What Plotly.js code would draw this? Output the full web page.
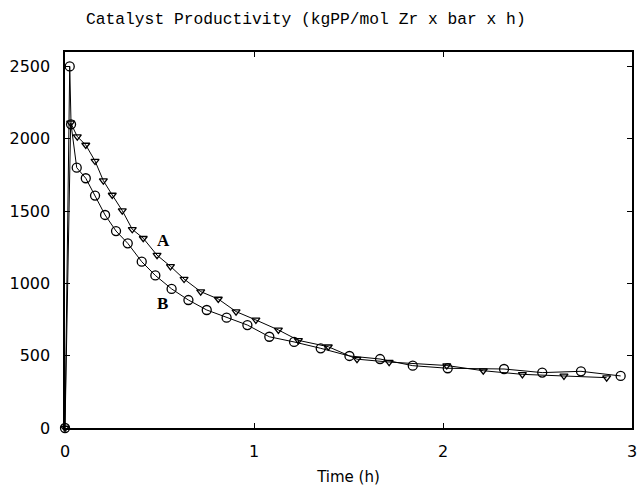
<!DOCTYPE html>
<html>
<head>
<meta charset="utf-8">
<script src="https://cdn.plot.ly/plotly-3.0.1.min.js"></script>
<style>html,body{margin:0;padding:0;background:#fff;}#chart{width:639px;height:486px;}</style>
</head>
<body>
<div id="chart"></div>
<script>
// Series A (triangles)
const timeA = [0, 0.03, 0.065, 0.11, 0.159, 0.203, 0.25, 0.303, 0.356, 0.414, 0.487, 0.558, 0.63, 0.718, 0.811, 0.905, 1.01, 1.129, 1.235, 1.393, 1.545, 1.715, 2.02, 2.213, 2.42, 2.64, 2.866];
const prodA = [0, 2110, 2015, 1957, 1846, 1710, 1611, 1503, 1374, 1312, 1195, 1118, 1030, 943, 892, 805, 747, 678, 606, 562, 476, 456, 432, 396, 371, 360, 348];
// Series B (circles)
const timeB = [0, 0.025, 0.032, 0.062, 0.11, 0.159, 0.212, 0.27, 0.332, 0.406, 0.478, 0.564, 0.653, 0.75, 0.855, 0.965, 1.081, 1.212, 1.353, 1.505, 1.667, 1.84, 2.025, 2.323, 2.525, 2.73, 2.94];
const prodB = [0, 2500, 2100, 1800, 1727, 1607, 1473, 1362, 1277, 1150, 1055, 962, 885, 816, 763, 712, 631, 595, 551, 498, 477, 431, 413, 408, 383, 392, 360];
const seriesLabels = ["A", "B"];
const labelTime = [0.52, 0.515];
const labelProd = [1300, 864];
const xTicks = [0, 1, 2, 3];
const yTicks = [0, 500, 1000, 1500, 2000, 2500];

const traces = [
  {x: timeA, y: prodA, mode: 'lines+markers', cliponaxis: false,
   line: {color: '#000', width: 1},
   marker: {symbol: 'triangle-down-open', size: 7, color: '#000', line: {width: 1.3}}},
  {x: timeB, y: prodB, mode: 'lines+markers', cliponaxis: false,
   line: {color: '#000', width: 1},
   marker: {symbol: 'circle-open', size: 9, color: '#000', line: {width: 1.3}}}
];

const layout = {
  width: 639, height: 486,
  margin: {l: 65, r: 7, t: 52, b: 58},
  paper_bgcolor: '#fff', plot_bgcolor: '#fff',
  showlegend: false,
  title: {text: 'Catalyst Productivity (kgPP/mol Zr x bar x h)',
          font: {family: 'Liberation Mono, Courier New, monospace', size: 16.3, color: '#000'},
          x: 86/639, xanchor: 'left', xref: 'container', y: 1 - 18/486, yanchor: 'middle', yref: 'container'},
  xaxis: {range: [0, 3], tickvals: xTicks, ticktext: xTicks.map(String),
          showgrid: false, zeroline: false, showline: true, mirror: 'ticks', linecolor: '#000', linewidth: 1.6,
          ticks: 'inside', ticklen: 5, tickcolor: '#000', tickwidth: 1,
          tickfont: {family: 'DejaVu Sans, sans-serif', size: 16, color: '#000'},
          ticklabelstandoff: 8,
          title: {text: 'Time (h)', font: {family: 'DejaVu Sans, sans-serif', size: 15, color: '#000'}, standoff: 12}},
  yaxis: {range: [0, 2600], tickvals: yTicks, ticktext: yTicks.map(String),
          showgrid: false, zeroline: false, showline: true, mirror: 'ticks', linecolor: '#000', linewidth: 1.6,
          ticks: 'inside', ticklen: 5, tickcolor: '#000', tickwidth: 1,
          tickfont: {family: 'DejaVu Sans, sans-serif', size: 16, color: '#000'},
          ticklabelstandoff: 10},
  annotations: seriesLabels.map((s, i) => ({
    x: labelTime[i], y: labelProd[i], xref: 'x', yref: 'y', text: s, showarrow: false,
    font: {family: 'Liberation Serif, serif', size: 17, color: '#000', weight: 'bold'}
  }))
};

Plotly.newPlot('chart', traces, layout, {displayModeBar: false, staticPlot: true});
</script>
</body>
</html>
